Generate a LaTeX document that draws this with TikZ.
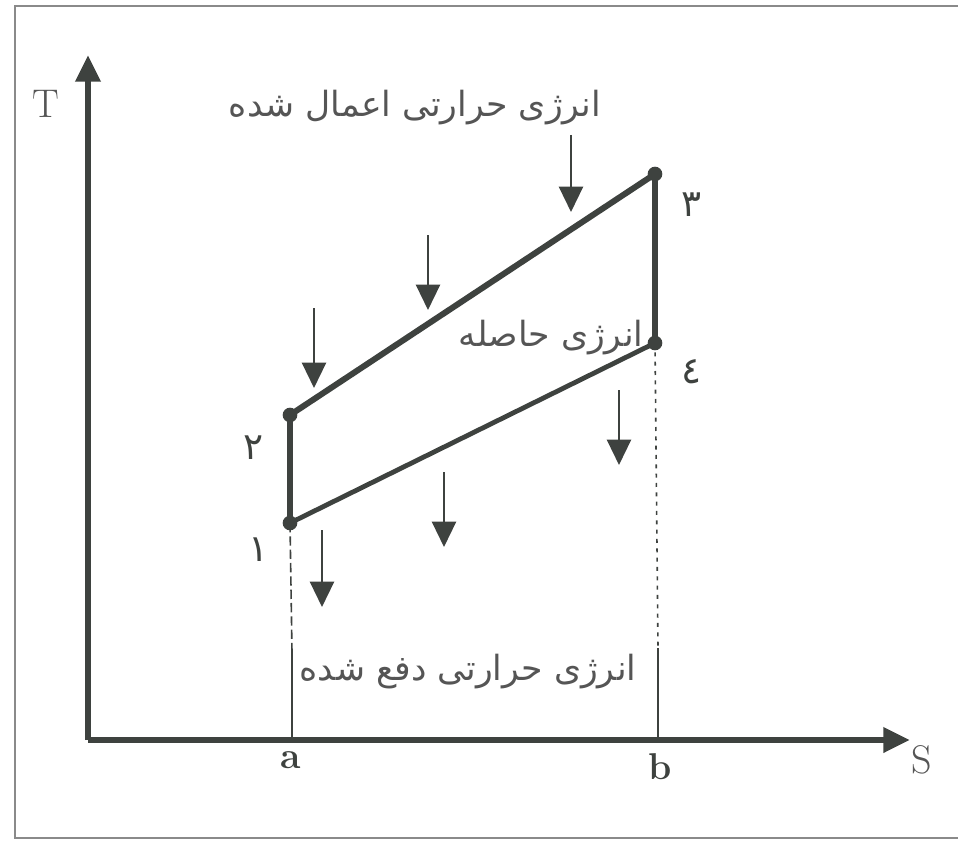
\documentclass[tikz,border=0pt]{standalone}
\usepackage{fontspec}
\usetikzlibrary{arrows.meta}
\TeXXeTstate=1
\newfontfamily\arabicfont[Script=Arabic]{DejaVu Sans}
\definecolor{ink}{HTML}{3E423F}
\definecolor{txt}{HTML}{555555}
\definecolor{frame}{HTML}{8A8A8A}
\begin{document}
\begin{tikzpicture}[x=0.75pt,y=-0.75pt,
  axis/.style={ink,line width=5pt,-{Triangle[width=18pt,length=20pt]}},
  cyc/.style={ink,line width=4pt},
  pt/.style={circle,fill=ink,inner sep=0pt,minimum size=11pt},
  heat/.style={ink,line width=1.8pt,-{Triangle[width=18pt,length=19pt]}},
  guide/.style={ink,line width=1.2pt},
  lat/.style={text=txt,font=\fontsize{30}{30}\selectfont},
  latb/.style={text=ink,font=\fontsize{28}{28}\selectfont\bfseries},
  ar/.style={text=txt,font=\fontsize{26}{28}\selectfont\arabicfont},
  dig/.style={text=ink,font=\fontsize{28}{28}\selectfont\arabicfont}]
\useasboundingbox (0,0) rectangle (958,842);
% frame
\draw[frame,line width=1.5pt] (958,6) -- (15,6) -- (15,838) -- (958,838);
% axes
\coordinate (O) at (88,740);
\coordinate (Tend) at (88,55);
\coordinate (Send) at (910,740);
\draw[axis] (O) -- (Tend);
\draw[axis] (O) -- (Send);
\node[lat] (T) at (46,104) {T};
\node[lat] (S) at (922,760) {S};
\node[latb] (a) at (291,760) {a};
\node[latb] (b) at (660,767) {b};
% cycle points
\node[pt] (p1) at (290,523) {};
\node[pt] (p2) at (290,415) {};
\node[pt] (p3) at (655,174) {};
\node[pt] (p4) at (655,343) {};
\draw[cyc] (p1.center) -- (p2.center);
\draw[cyc,line width=4.5pt] (p2.center) -- (p3.center);
\draw[cyc] (p3.center) -- (p4.center);
\draw[cyc,line width=3.6pt] (p1.center) -- (p4.center);
% guides to axis
\coordinate (ga) at (292,652);
\coordinate (gaa) at (292,740);
\coordinate (gb) at (658,648);
\coordinate (gbb) at (658,740);
\draw[guide,dash pattern=on 7pt off 3pt] (p1.center) -- (ga);
\draw[guide] (ga) -- (gaa);
\draw[guide,dash pattern=on 3pt off 4pt] (p4.center) -- (gb);
\draw[guide] (gb) -- (gbb);
% labels of states
\node[dig] (n1) at (259,550) {\beginR ۱\endR};
\node[dig] (n2) at (254,448) {\beginR ۲\endR};
\node[dig] (n3) at (692,205) {\beginR ۳\endR};
\node[dig] (n4) at (692,372) {\beginR ٤\endR};
% heat in arrows
\coordinate (u1s) at (571,135); \coordinate (u1e) at (571,212);
\coordinate (u2s) at (428,235); \coordinate (u2e) at (428,310);
\coordinate (u3s) at (314,308); \coordinate (u3e) at (314,388);
\draw[heat] (u1s) -- (u1e);
\draw[heat] (u2s) -- (u2e);
\draw[heat] (u3s) -- (u3e);
% heat out arrows
\coordinate (d1s) at (619,390); \coordinate (d1e) at (619,465);
\coordinate (d2s) at (444,472); \coordinate (d2e) at (444,547);
\coordinate (d3s) at (322,530); \coordinate (d3e) at (322,607);
\draw[heat] (d1s) -- (d1e);
\draw[heat] (d2s) -- (d2e);
\draw[heat] (d3s) -- (d3e);
% texts
\node[ar] (qin) at (415,108) {\beginR انرژی حرارتی اعمال شده\endR};
\node[ar] (w) at (551,338) {\beginR انرژی حاصله\endR};
\node[ar] (qout) at (468,672) {\beginR انرژی حرارتی دفع شده\endR};
\end{tikzpicture}
\end{document}
